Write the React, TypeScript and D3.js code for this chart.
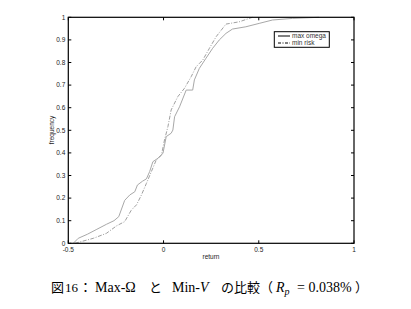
import React from "react";
import * as d3 from "d3";

const xTicks = [-0.5, 0, 0.5, 1];
const yTicks = [0, 0.1, 0.2, 0.3, 0.4, 0.5, 0.6, 0.7, 0.8, 0.9, 1];

const maxOmegaX = [-0.474, -0.448, -0.4, -0.35, -0.3, -0.26, -0.235, -0.204, -0.177, -0.151, -0.137, -0.11, -0.09, -0.073, -0.056, -0.03, -0.003, 0.014, 0.04, 0.049, 0.058, 0.084, 0.119, 0.153, 0.162, 0.188, 0.223, 0.258, 0.293, 0.328, 0.362, 0.432, 0.502, 0.572, 0.676, 0.816];
const maxOmegaY = [0, 0.022, 0.04, 0.062, 0.084, 0.1, 0.118, 0.19, 0.214, 0.228, 0.258, 0.275, 0.285, 0.317, 0.361, 0.376, 0.398, 0.472, 0.487, 0.501, 0.56, 0.604, 0.678, 0.678, 0.723, 0.774, 0.819, 0.863, 0.9, 0.929, 0.948, 0.958, 0.973, 0.988, 0.995, 1.0];

const minRiskX = [-0.465, -0.369, -0.3, -0.247, -0.204, -0.169, -0.142, -0.116, -0.09, -0.064, -0.038, -0.011, 0.005, 0.023, 0.04, 0.075, 0.11, 0.145, 0.171, 0.206, 0.241, 0.276, 0.302, 0.328, 0.397, 0.467];
const minRiskY = [0, 0.022, 0.044, 0.077, 0.096, 0.147, 0.17, 0.214, 0.265, 0.317, 0.369, 0.39, 0.457, 0.516, 0.59, 0.649, 0.686, 0.737, 0.781, 0.811, 0.863, 0.914, 0.942, 0.97, 0.98, 1.0];

const seriesNames = ["max omega", "min risk"];

export default function App() {
  const left = 68.3, right = 354, top = 17.3, bottom = 243.3;
  const x = d3.scaleLinear().domain([-0.5, 1]).range([left, right]);
  const y = d3.scaleLinear().domain([0, 1]).range([bottom, top]);
  const line = d3.line<[number, number]>().x(d => x(d[0])).y(d => y(d[1]));
  const mo: [number, number][] = maxOmegaX.map((v, i) => [v, maxOmegaY[i]]);
  const mr: [number, number][] = minRiskX.map((v, i) => [v, minRiskY[i]]);
  const tl = 3;
  const small = { fontFamily: "Liberation Sans, Arial, sans-serif", fontSize: 6.5, fill: "#222" };
  return (
    <svg width={411} height={309} style={{ position: "absolute", left: 0, top: 0, background: "#fff" }}>
      <rect x={0} y={0} width={411} height={309} fill="#fff" />
      <path d={line(mo) || ""} fill="none" stroke="#a8a8a8" strokeWidth={1} />
      <path d={line(mr) || ""} fill="none" stroke="#a0a0a0" strokeWidth={1} strokeDasharray="4,1.5,1,1.5" />
      <rect x={left} y={top} width={right - left} height={bottom - top} fill="none" stroke="#000" strokeWidth={1.2} />
      {xTicks.map(t => (
        <g key={"x" + t}>
          <line x1={x(t)} x2={x(t)} y1={bottom} y2={bottom - tl} stroke="#000" />
          <line x1={x(t)} x2={x(t)} y1={top} y2={top + tl} stroke="#000" />
          <text x={x(t)} y={bottom + 8.5} textAnchor="middle" {...small}>{t === -0.5 ? "-0.5" : String(t)}</text>
        </g>
      ))}
      {yTicks.map(t => (
        <g key={"y" + t}>
          <line x1={left} x2={left + tl} y1={y(t)} y2={y(t)} stroke="#000" />
          <line x1={right} x2={right - tl} y1={y(t)} y2={y(t)} stroke="#000" />
          <text x={left - 3} y={y(t) + 2.3} textAnchor="end" {...small}>{String(t)}</text>
        </g>
      ))}
      <text x={211} y={259} textAnchor="middle" {...small}>return</text>
      <text transform="translate(54,130) rotate(-90)" textAnchor="middle" {...small}>frequency</text>
      <rect x={274.3} y={31.7} width={55} height={15.6} fill="#fff" stroke="#000" strokeWidth={1} />
      <line x1={278} x2={290} y1={36} y2={36} stroke="#000" strokeWidth={1} />
      <line x1={278} x2={290} y1={43} y2={43} stroke="#000" strokeWidth={1} strokeDasharray="3,1.5,1,1.5" />
      <text x={292} y={38.3} {...small} fill="#333">{seriesNames[0]}</text>
      <text x={292} y={45.3} {...small} fill="#333">{seriesNames[1]}</text>
      <text y={292} fontSize={14} fill="#000" fontFamily="Liberation Serif, DejaVu Serif, serif">
        <tspan x={51} fontFamily="Noto Sans CJK JP" fontSize={13}>図</tspan>
        <tspan x={65} fontSize={13}>16</tspan>
        <tspan x={79} fontFamily="Noto Sans CJK JP" fontSize={13}>：</tspan>
        <tspan x={95}>Max-Ω</tspan>
        <tspan x={149} fontFamily="Noto Sans CJK JP" fontSize={13}>と</tspan>
        <tspan x={172}>Min-</tspan>
        <tspan fontStyle="italic">V</tspan>
        <tspan x={221} fontFamily="Noto Sans CJK JP" fontSize={13}>の比較（</tspan>
        <tspan x={276} fontStyle="italic">R</tspan>
        <tspan fontStyle="italic" fontSize={10} dy={3}>p</tspan>
        <tspan x={297} dy={-3}>= 0.038%</tspan>
        <tspan x={355} fontFamily="Noto Sans CJK JP" fontSize={13}>）</tspan>
      </text>
    </svg>
  );
}
